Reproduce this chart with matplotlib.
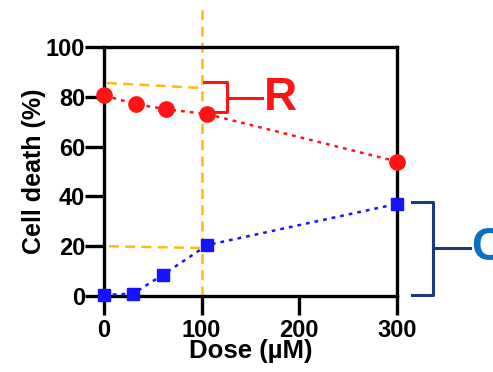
import matplotlib
matplotlib.use('Agg')
import matplotlib.pyplot as plt

plt.rcParams['font.family'] = ['Liberation Sans', 'DejaVu Sans']
plt.rcParams['font.weight'] = 'bold'

# data
dose_r = [0, 33, 63, 106, 300]
death_r = [80.5, 77, 75, 73, 54]
dose_c = [0, 30, 60, 106, 300]
death_c = [0.5, 1, 8.5, 20.5, 37]
x_ticks = [0, 100, 200, 300]
y_ticks = [0, 20, 40, 60, 80, 100]

red = '#ff1414'
blue = '#1414ff'
orange = '#ffb90f'
navy = '#1c3a7e'
cblue = '#0a70c4'

fig = plt.figure(figsize=(4.93, 3.72), dpi=100)
ax = fig.add_axes([0.211, 0.204, 0.594, 0.670])

# orange guide lines
ax.plot([100, 100], [0, 116], color=orange, lw=1.8, ls=(0, (4, 2.5)), clip_on=False, zorder=1)
ax.plot([3, 100], [85.5, 83.5], color=orange, lw=1.8, ls=(0, (4, 2.5)), clip_on=False, zorder=1)
ax.plot([5, 100], [20, 19.3], color=orange, lw=1.8, ls=(0, (4, 2.5)), clip_on=False, zorder=1)

# series
ax.plot(dose_r, death_r, color=red, lw=1.8, ls=(0, (1.5, 2)), marker='o', ms=11,
        clip_on=False, zorder=3)
ax.plot(dose_c, death_c, color=blue, lw=1.8, ls=(0, (1.5, 2)), marker='s', ms=9,
        clip_on=False, zorder=3)

# brackets
ax.plot([102, 126, 126, 102], [86, 86, 74, 74], color=red, lw=2.2, clip_on=False, zorder=2)
ax.plot([126, 162], [79.5, 79.5], color=red, lw=2.2, clip_on=False, zorder=2)
ax.text(164, 79.5, 'R', color=red, fontsize=33, fontweight='bold', ha='left', va='center')

ax.plot([316, 337, 337, 316], [37.8, 37.8, 0.4, 0.4], color=navy, lw=2.2, clip_on=False)
ax.plot([337, 375], [19.3, 19.3], color=navy, lw=2.2, clip_on=False)
ax.text(376, 19.3, 'C', color=cblue, fontsize=33, fontweight='bold', ha='left', va='center')

ax.set_xlim(0, 300)
ax.set_ylim(0, 100)
ax.set_xticks(x_ticks)
ax.set_yticks(y_ticks)
for s in ax.spines.values():
    s.set_linewidth(2.4)
ax.tick_params(width=2.4, length=13.5, labelsize=17, pad=0)
ax.tick_params(axis='x', pad=3)
for lab in ax.get_xticklabels() + ax.get_yticklabels():
    lab.set_fontweight('bold')

ax.set_xlabel('Dose (µM)', fontsize=18.5, fontweight='bold', labelpad=-2)
ax.set_ylabel('Cell death (%)', fontsize=18, fontweight='bold', labelpad=0)

fig.savefig('out.png', dpi=100)
